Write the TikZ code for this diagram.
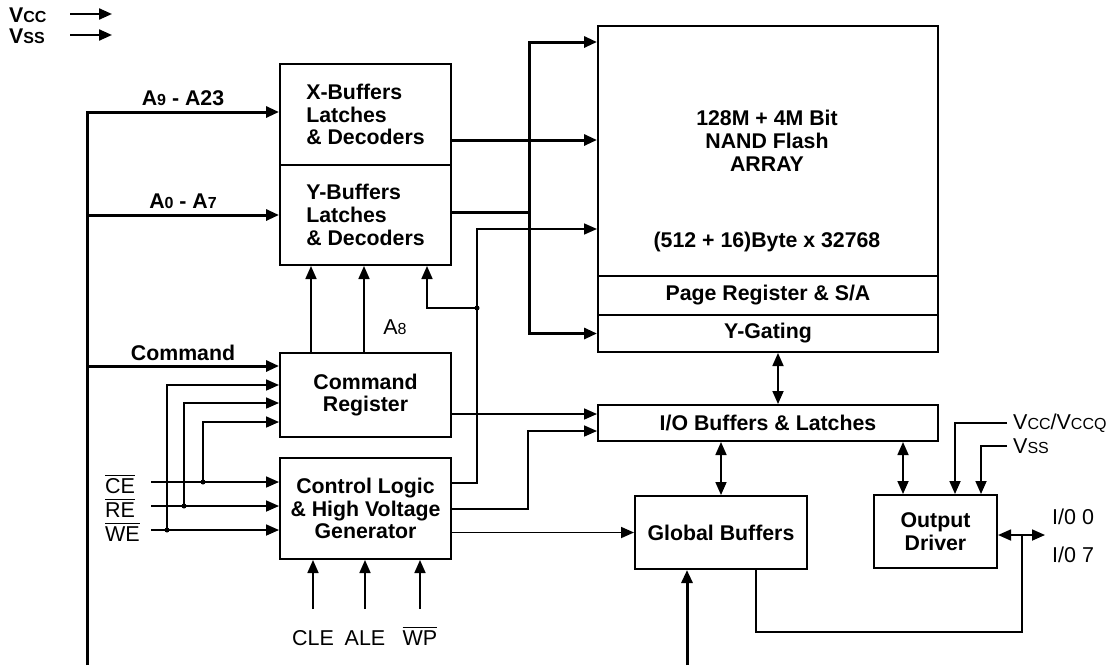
\documentclass[tikz,border=0pt]{standalone}
\usepackage{fontspec}
\setmainfont{Liberation Sans}
\usetikzlibrary{arrows.meta,positioning}
\newcommand{\lbl}{\fontsize{21.3}{22.8}\selectfont\bfseries}
\newcommand{\pinfont}{\fontsize{21.5}{23}\selectfont}
\newcommand{\lo}[1]{{\fontsize{16}{16}\selectfont #1}}
\newcommand{\ovl}[1]{\leavevmode\vbox{\hrule height 1.6pt\kern 1.8pt\hbox{#1}}}

\begin{document}
\begin{tikzpicture}[x=1pt,y=-1pt,
  box/.style={draw,line width=2pt,align=center,font=\lbl,inner sep=0pt,anchor=north west},
  txt/.style={font=\lbl,inner sep=0pt},
  pin/.style={font=\pinfont,inner sep=0pt},
  bus/.style={line width=3pt},
  wire/.style={line width=1.7pt},
  arr/.style={-{Triangle[length=13pt,width=11pt]}},
  biarr/.style={{Triangle[length=13pt,width=11pt]}-{Triangle[length=13pt,width=11pt]}},
  dot/.style={circle,fill,inner sep=0pt,minimum size=5pt}]
  \useasboundingbox (0,0) rectangle (1113,665);

  % blocks
  \node[box,align=left,minimum width=171pt,minimum height=101pt] (xbuf) at (279,63) {X-Buffers\\Latches\\\& Decoders};
  \node[box,align=left,minimum width=171pt,minimum height=100pt] (ybuf) at (279,164) {Y-Buffers\\Latches\\\& Decoders};
  \node[box,minimum width=171pt,minimum height=84pt] (cmdreg) at (279,352) {Command\\Register};
  \node[box,minimum width=171pt,minimum height=101pt] (ctrl) at (279,457) {Control Logic\\\& High Voltage\\Generator};
  \node[box,minimum width=340pt,minimum height=250pt] (array) at (597,25) {};
  \node[txt,align=center] (arrname) at (767,141) {128M + 4M Bit\\NAND Flash\\ARRAY};
  \node[txt] (arrorg) at (767,242) {(512 + 16)Byte x 32768};
  \node[box,minimum width=340pt,minimum height=39pt] (pagereg) at (597,275) {Page Register \& S/A};
  \node[box,minimum width=340pt,minimum height=37pt] (ygate) at (597,314) {Y-Gating};
  \node[box,minimum width=340pt,minimum height=36pt] (iobuf) at (597,404) {I/O Buffers \& Latches};
  \node[box,minimum width=172pt,minimum height=73pt] (global) at (634,495) {Global Buffers};
  \node[box,minimum width=123pt,minimum height=73pt] (output) at (873,494) {Output\\Driver};

  % supply
  \node[txt,anchor=west] (vcc) at (9,15) {V\lo{CC}};
  \node[txt,anchor=west] (vss) at (9,36) {V\lo{SS}};
  \coordinate (vcc0) at (70,14); \coordinate (vcc1) at (112,14);
  \coordinate (vss0) at (70,35); \coordinate (vss1) at (112,35);
  \draw[line width=2.2pt,arr] (vcc0) -- (vcc1);
  \draw[line width=2.2pt,arr] (vss0) -- (vss1);

  % address / command bus
  \coordinate (bustop) at (87,112);
  \coordinate (busbot) at (87,665);
  \coordinate (cmdin) at (87,366);
  \draw[bus,arr] (busbot) -- (bustop) -- (xbuf.west |- bustop) node[txt,midway,above=5pt] {A\lo{9} - A23};
  \draw[bus,arr] (bustop |- ybuf.west) -- (ybuf.west) node[txt,midway,above=5pt] {A\lo{0} - A\lo{7}};
  \draw[bus,arr] (cmdin) -- (cmdreg.west |- cmdin) node[txt,midway,above=4pt] {Command};

  % decoders to array
  \coordinate (xout) at (450,140);
  \coordinate (ysplit) at (529,212);
  \draw[bus,arr] (xout) -- (array.west |- xout);
  \draw[bus] (ybuf.east |- ysplit) -- (ysplit);
  \draw[bus,biarr] (array.west |- 0,42) -| (ysplit) |- (ygate.west);

  % command register to decoders
  \draw[wire,arr] ([xshift=32pt]cmdreg.north west) -- ([xshift=32pt]ybuf.south west);
  \draw[wire,arr] ([xshift=85pt]cmdreg.north west) -- ([xshift=85pt]ybuf.south west);
  \node[pin] (a8) at (395,327) {A\lo{8}};

  % control logic outputs
  \coordinate (cl1) at (477,229);
  \coordinate (a8j) at (477,308);
  \coordinate (cl2) at (528,431);
  \draw[wire,arr] (ctrl.east |- 0,483) -| (cl1) -- (array.west |- cl1);
  \node[dot] (a8dot) at (a8j) {};
  \draw[wire,arr] (a8j) -| ([xshift=-25pt]ybuf.south east);
  \draw[wire,arr] (ctrl.east |- 0,509) -| (cl2) -- (iobuf.west |- cl2);
  \draw[wire,arr] (ctrl.east |- global.west) -- (global.west);
  \draw[wire,arr] (cmdreg.east |- 0,414) -- (iobuf.west |- 0,414);

  % chip enable, read, write
  \node[pin,anchor=base west] (ce) at (105,493) {\ovl{CE}};
  \node[pin,anchor=base west] (re) at (105,517) {\ovl{RE}};
  \node[pin,anchor=base west] (we) at (105,541) {\ovl{WE}};
  \coordinate (ce0) at (151,482); \coordinate (cej) at (203,482);
  \coordinate (re0) at (151,506); \coordinate (rej) at (184,506);
  \coordinate (we0) at (151,530); \coordinate (wej) at (167,530);
  \foreach \s in {ce,re,we}{\draw[wire,arr] (\s0) -- (ctrl.west |- \s0);}
  \foreach \s in {ce,re,we}{\node[dot] (\s dot) at (\s j) {};}
  \draw[wire,arr] (cej) |- (cmdreg.west |- 0,422);
  \draw[wire,arr] (rej) |- (cmdreg.west |- 0,403);
  \draw[wire,arr] (wej) |- (cmdreg.west |- 0,385);

  % latch enables, write protect
  \coordinate (pinrow) at (0,609);
  \node[pin,anchor=base] (cle) at (313,645) {CLE};
  \node[pin,anchor=base] (ale) at (365,645) {ALE};
  \node[pin,anchor=base] (wp) at (420,645) {\ovl{WP}};
  \foreach \s in {cle,ale,wp}{\draw[wire,arr] (\s |- pinrow) -- (ctrl.south -| \s);}

  % data path
  \draw[wire,biarr] ([xshift=10pt]ygate.south) -- ([xshift=10pt]iobuf.north);
  \draw[wire,biarr] (iobuf.south -| global.north) -- (global.north);
  \coordinate (odq) at ([xshift=30pt]output.north west);
  \draw[wire,biarr] (iobuf.south -| odq) -- (odq);
  \coordinate (gin) at (687,665);
  \draw[bus,arr] (gin) -- (global.south -| gin);

  % output driver pins
  \node[pin,anchor=west] (vccq) at (1013,423) {V\lo{CC}/V\lo{CCQ}};
  \node[pin,anchor=west] (vssr) at (1013,446) {V\lo{SS}};
  \draw[wire,arr] ([xshift=-6pt]vccq.west) -| ([xshift=82pt]output.north west);
  \draw[wire,arr] ([xshift=-6pt]vssr.west) -| ([xshift=108pt]output.north west);
  \coordinate (ioj) at (1022,535);
  \coordinate (ioend) at (1045,535);
  \coordinate (gret) at (756,632);
  \draw[wire,biarr] (output.east |- ioj) -- (ioend);
  \draw[wire] (ioj) |- (gret) -- (global.south -| gret);
  \node[pin,anchor=west] (io0) at (1052,517) {I/0 0};
  \node[pin,anchor=west] (io7) at (1052,555) {I/0 7};
\end{tikzpicture}
\end{document}
